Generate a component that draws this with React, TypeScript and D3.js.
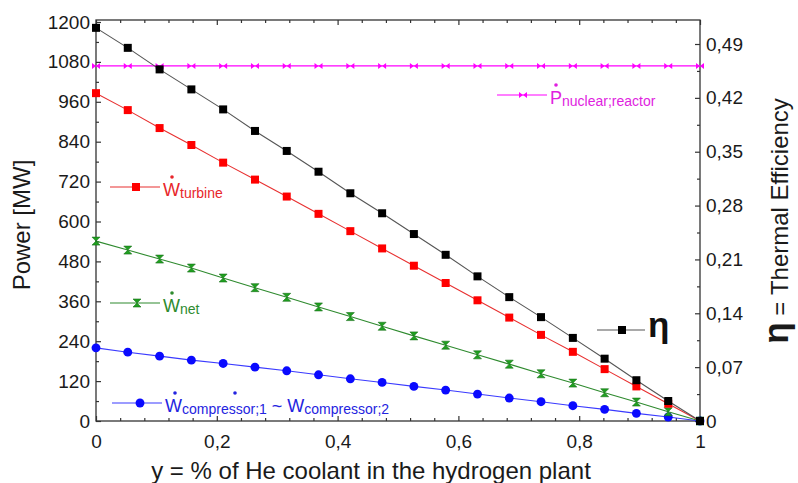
import { useEffect, useRef } from 'react';
import * as d3 from 'd3';

// y = fraction of He coolant sent to the hydrogen plant
const X_VALUES = [0, 0.0526, 0.1053, 0.1579, 0.2105, 0.2632, 0.3158, 0.3684, 0.4211, 0.4737,
  0.5263, 0.5789, 0.6316, 0.6842, 0.7368, 0.7895, 0.8421, 0.8947, 0.9474, 1];

// thermal efficiency (right axis)
const ETA = [0.511, 0.485, 0.457, 0.431, 0.405, 0.377, 0.351, 0.324, 0.296, 0.27,
  0.243, 0.216, 0.188, 0.161, 0.135, 0.108, 0.081, 0.053, 0.026, 0];

// power in MW (left axis)
const W_TURBINE = [986, 935, 881, 830, 777, 726, 675, 623, 571, 519,
  467, 415, 363, 311, 259, 208, 156, 104, 52, 0];
const W_NET = [541, 514, 487, 460, 430, 401, 372, 343, 314, 285,
  256, 228, 199, 171, 142, 114, 85, 57, 28, 0];
const W_COMPRESSOR = [220, 207, 195, 183, 173, 162, 151, 139, 127, 116,
  104, 93, 81, 69, 58, 46, 35, 23, 12, 0];
const P_REACTOR = [1068, 1068, 1068, 1068, 1068, 1068, 1068, 1068, 1068, 1068,
  1068, 1068, 1068, 1068, 1068, 1068, 1068, 1068, 1068, 1068];

const POWER_TICKS = [0, 120, 240, 360, 480, 600, 720, 840, 960, 1080, 1200];
const POWER_MINOR = [60, 180, 300, 420, 540, 660, 780, 900, 1020, 1140];
const ETA_TICKS = [0, 0.07, 0.14, 0.21, 0.28, 0.35, 0.42, 0.49];
const ETA_MINOR = [0.035, 0.105, 0.175, 0.245, 0.315, 0.385, 0.455];
const X_TICKS = [0, 0.2, 0.4, 0.6, 0.8, 1];
const X_MINOR = [0.04, 0.08, 0.12, 0.16, 0.24, 0.28, 0.32, 0.36, 0.44, 0.48, 0.52, 0.56,
  0.64, 0.68, 0.72, 0.76, 0.84, 0.88, 0.92, 0.96];

const FONT = "'Liberation Sans', Arial, Helvetica, sans-serif";

const MARKERS: Record<string, string> = {
  square: 'M-4,-4H4V4H-4Z',
  circle: d3.symbol(d3.symbolCircle, 62)() as string,
  hourglass: 'M-4,-4L4,-4L0,0ZM-4,4L4,4L0,0Z',
  bowtie: 'M-4,-3L0,0L-4,3ZM4,-3L0,0L4,3Z',
};

export default function App() {
  const svgRef = useRef<SVGSVGElement>(null);

  useEffect(() => {
    if (!svgRef.current) return;
    const svg = d3.select(svgRef.current);
    svg.selectAll('*').remove();

    const left = 96, right = 700, top = 20, bottom = 421;
    const x = d3.scaleLinear().domain([0, 1]).range([left, right]);
    const yL = d3.scaleLinear().domain([0, 1206]).range([bottom, top]);
    const yR = d3.scaleLinear().domain([0, 0.5212]).range([bottom, top]);

    const fmt = (d: any) => String(d).replace('.', ',');
    const styleAxis = (g: any) => {
      g.select('.domain').remove();
      g.selectAll('line').attr('stroke', '#333').attr('stroke-width', 1.2);
      g.selectAll('text')
        .attr('fill', '#1a1a1a')
        .style('font-family', FONT)
        .style('font-size', '19px');
    };

    // axes, ticks pointing inward
    svg.append('g').attr('transform', `translate(${left},0)`)
      .call(d3.axisLeft(yL).tickValues(POWER_TICKS).tickSizeInner(-5).tickSizeOuter(0).tickPadding(6).tickFormat(fmt))
      .call(styleAxis);
    svg.append('g').attr('transform', `translate(${left},0)`)
      .call(d3.axisLeft(yL).tickValues(POWER_MINOR).tickSizeInner(-3).tickSizeOuter(0).tickFormat(() => ''))
      .call(styleAxis);
    svg.append('g').attr('transform', `translate(${right},0)`)
      .call(d3.axisRight(yR).tickValues(ETA_TICKS).tickSizeInner(-5).tickSizeOuter(0).tickPadding(6).tickFormat(fmt))
      .call(styleAxis);
    svg.append('g').attr('transform', `translate(${right},0)`)
      .call(d3.axisRight(yR).tickValues(ETA_MINOR).tickSizeInner(-3).tickSizeOuter(0).tickFormat(() => ''))
      .call(styleAxis);
    svg.append('g').attr('transform', `translate(0,${bottom})`)
      .call(d3.axisBottom(x).tickValues(X_TICKS).tickSizeInner(-5).tickSizeOuter(0).tickPadding(14).tickFormat(fmt))
      .call(styleAxis);
    svg.append('g').attr('transform', `translate(0,${bottom})`)
      .call(d3.axisBottom(x).tickValues(X_MINOR).tickSizeInner(-3).tickSizeOuter(0).tickFormat(() => ''))
      .call(styleAxis);
    svg.append('g').attr('transform', `translate(0,${top})`)
      .call(d3.axisTop(x).tickValues(X_TICKS).tickSizeInner(-5).tickSizeOuter(0).tickFormat(() => ''))
      .call(styleAxis);
    svg.append('g').attr('transform', `translate(0,${top})`)
      .call(d3.axisTop(x).tickValues(X_MINOR).tickSizeInner(-3).tickSizeOuter(0).tickFormat(() => ''))
      .call(styleAxis);

    // frame
    svg.append('rect')
      .attr('x', left).attr('y', top)
      .attr('width', right - left).attr('height', bottom - top)
      .attr('fill', 'none').attr('stroke', '#333').attr('stroke-width', 1.3);

    const series = [
      { values: P_REACTOR, scale: yL, line: '#ff00ff', fill: '#ff00ff', marker: 'bowtie' },
      { values: W_COMPRESSOR, scale: yL, line: '#3a3aff', fill: '#0a0aff', marker: 'circle' },
      { values: W_NET, scale: yL, line: '#2e8a2e', fill: '#1fa01f', marker: 'hourglass' },
      { values: W_TURBINE, scale: yL, line: '#e83030', fill: '#ff0000', marker: 'square' },
      { values: ETA, scale: yR, line: '#555555', fill: '#000000', marker: 'square' },
    ];

    series.forEach(s => {
      const line = d3.line<number>()
        .x((d, i) => x(X_VALUES[i]))
        .y(d => s.scale(d));
      svg.append('path')
        .datum(s.values)
        .attr('d', line)
        .attr('fill', 'none')
        .attr('stroke', s.line)
        .attr('stroke-width', 1.1);
      svg.selectAll(null)
        .data(s.values)
        .enter()
        .append('path')
        .attr('d', MARKERS[s.marker])
        .attr('transform', (d, i) => `translate(${x(X_VALUES[i])},${s.scale(d)})`)
        .attr('fill', s.fill)
        .attr('stroke', s.marker === 'hourglass' ? '#17701a' : 'none')
        .attr('stroke-width', 0.6);
    });

    // in-plot legend entries
    const legendRow = (x0: number, y0: number, mx: number, lineColor: string, fill: string,
      marker: string, mainText: string, subText: string, textColor: string, mainSize = 18) => {
      const g = svg.append('g');
      g.append('line')
        .attr('x1', x0).attr('x2', x0 + 50).attr('y1', y0).attr('y2', y0)
        .attr('stroke', lineColor).attr('stroke-width', 1.1);
      g.append('path')
        .attr('d', MARKERS[marker])
        .attr('transform', `translate(${mx},${y0})`)
        .attr('fill', fill)
        .attr('stroke', marker === 'hourglass' ? '#17701a' : 'none')
        .attr('stroke-width', 0.6);
      const t = g.append('text')
        .attr('x', x0 + 53).attr('y', y0 + 9)
        .attr('fill', textColor)
        .style('font-family', FONT);
      t.append('tspan').style('font-size', `${mainSize}px`).text(mainText);
      if (subText) t.append('tspan').attr('dy', 2).style('font-size', '14px').text(subText);
      return g;
    };

    const dot = (cx: number, cy: number, color: string) =>
      svg.append('circle').attr('cx', cx).attr('cy', cy).attr('r', 1.8).attr('fill', color);

    legendRow(497, 95, 523, '#ff00ff', '#ff00ff', 'bowtie', 'P', 'nuclear;reactor', '#e01ee0');
    dot(556, 85, '#e01ee0');

    legendRow(110, 187, 136, '#e83030', '#ff0000', 'square', 'W', 'turbine', '#e8262b');
    dot(172, 177, '#e8262b');

    legendRow(110, 303, 137, '#2e8a2e', '#1fa01f', 'hourglass', 'W', 'net', '#2e8b2e');
    dot(172, 293, '#2e8b2e');

    const blue = legendRow(112, 403, 140, '#3a3aff', '#0a0aff', 'circle', 'W', 'compressor;1', '#2424e0');
    blue.select('text').append('tspan').attr('dy', -2).style('font-size', '18px').text(' ~ W');
    blue.select('text').append('tspan').attr('dy', 2).style('font-size', '14px').text('compressor;2');
    dot(175, 393, '#2424e0');
    dot(235, 393, '#2424e0');

    const etaLegend = svg.append('g');
    etaLegend.append('line')
      .attr('x1', 597).attr('x2', 645).attr('y1', 330).attr('y2', 330)
      .attr('stroke', '#555').attr('stroke-width', 1.1);
    etaLegend.append('path')
      .attr('d', MARKERS.square)
      .attr('transform', 'translate(622,330)')
      .attr('fill', '#000');
    etaLegend.append('text')
      .attr('x', 648).attr('y', 337)
      .attr('fill', '#111')
      .style('font-family', FONT)
      .style('font-size', '35px')
      .style('font-weight', 'bold')
      .text('η');

    // axis titles
    svg.append('text')
      .attr('transform', 'translate(30,225) rotate(-90)')
      .attr('text-anchor', 'middle')
      .attr('fill', '#1a1a1a')
      .style('font-family', FONT)
      .style('font-size', '24px')
      .text('Power [MW]');

    svg.append('text')
      .attr('x', 371).attr('y', 479)
      .attr('text-anchor', 'middle')
      .attr('fill', '#1a1a1a')
      .style('font-family', FONT)
      .style('font-size', '24px')
      .text('y = % of He coolant in the hydrogen plant');

    const rt = svg.append('text')
      .attr('transform', 'translate(788,221) rotate(-90)')
      .attr('text-anchor', 'middle')
      .attr('fill', '#1a1a1a')
      .style('font-family', FONT);
    rt.append('tspan').style('font-size', '35px').style('font-weight', 'bold').text('η');
    rt.append('tspan').style('font-size', '24px').text(' = Thermal Efficiency');
  }, []);

  return (
    <svg
      ref={svgRef}
      width={798}
      height={483}
      style={{ position: 'absolute', left: 0, top: 0, background: '#fff' }}
    />
  );
}
